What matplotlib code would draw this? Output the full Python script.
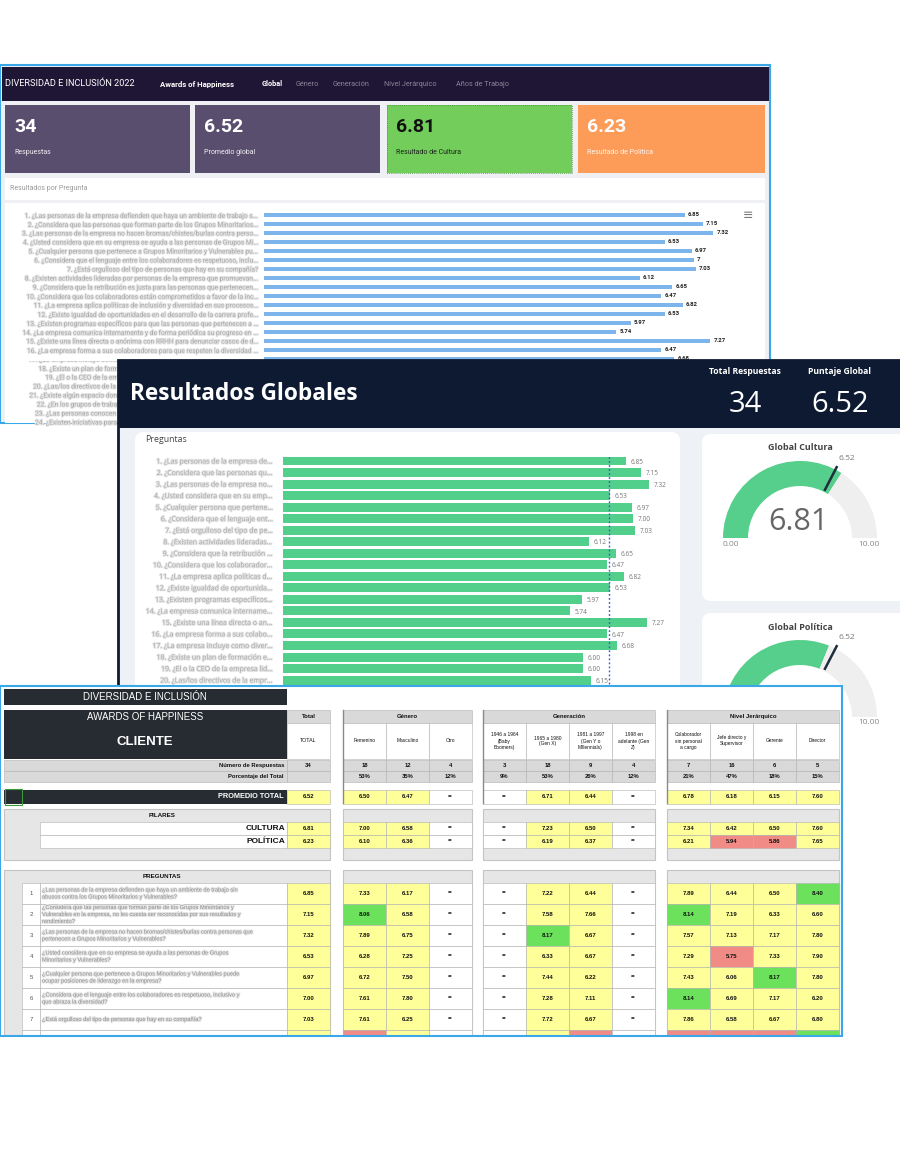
import textwrap
import matplotlib
matplotlib.use("Agg")
import matplotlib.pyplot as plt
import matplotlib.patheffects as pe
from matplotlib.patches import Rectangle, FancyBboxPatch, Wedge
from matplotlib.transforms import Bbox
import numpy as np

W, H = 900, 1153

# ---------------- data ----------------
preguntas = [
    "¿Las personas de la empresa defienden que haya un ambiente de trabajo sin abusos contra los Grupos Minoritarios y Vulnerables?",
    "¿Considera que las personas que forman parte de los Grupos Minoritarios y Vulnerables en la empresa, no les cuesta ser reconocidas por sus resultados y rendimiento?",
    "¿Las personas de la empresa no hacen bromas/chistes/burlas contra personas que pertenecen a Grupos Minoritarios y Vulnerables?",
    "¿Usted considera que en su empresa se ayuda a las personas de Grupos Minoritarios y Vulnerables?",
    "¿Cualquier persona que pertenece a Grupos Minoritarios y Vulnerables puede ocupar posiciones de liderazgo en la empresa?",
    "¿Considera que el lenguaje entre los colaboradores es respetuoso, inclusivo y que abraza la diversidad?",
    "¿Está orgulloso del tipo de personas que hay en su compañía?",
    "¿Existen actividades lideradas por personas de la empresa que promuevan la inclusión y la diversidad?",
    "¿Considera que la retribución es justa para las personas que pertenecen a Grupos Minoritarios y Vulnerables?",
    "¿Considera que los colaboradores están comprometidos a favor de la inclusión en la empresa?",
    "¿La empresa aplica políticas de inclusión y diversidad en sus procesos de selección y promoción?",
    "¿Existe igualdad de oportunidades en el desarrollo de la carrera profesional de todas las personas?",
    "¿Existen programas específicos para que las personas que pertenecen a Grupos Minoritarios se desarrollen?",
    "¿La empresa comunica internamente y de forma periódica su progreso en inclusión y diversidad?",
    "¿Existe una línea directa o anónima con RRHH para denunciar casos de discriminación o acoso?",
    "¿La empresa forma a sus colaboradores para que respeten la diversidad de todas las personas?",
    "¿La empresa incluye como diversas sus áreas de trabajo en todos sus niveles jerárquicos?",
    "¿Existe un plan de formación en diversidad e inclusión para los líderes de la empresa?",
    "¿El o la CEO de la empresa lidera las iniciativas de diversidad e inclusión de la organización?",
    "¿Las/los directivos de la empresa promueven la inclusión de todas las personas en sus equipos?",
    "¿Existe algún espacio donde se evalúe cómo avanza la inclusión dentro de la empresa?",
    "¿En los grupos de trabajo, se valoran las opiniones de todas las personas por igual?",
    "¿Las personas conocen las políticas de diversidad e inclusión que tiene la empresa?",
    "¿Existen iniciativas para incorporar a personas con discapacidad en la empresa?",
]
puntajes = [6.85, 7.15, 7.32, 6.53, 6.97, 7.00, 7.03, 6.12, 6.65, 6.47,
            6.82, 6.53, 5.97, 5.74, 7.27, 6.47, 6.68, 6.00, 6.00, 6.15]

total_respuestas = 34
puntaje_global = 6.52
res_cultura = 6.81
res_politica = 6.23

kpi_valores = [f"{total_respuestas}", f"{puntaje_global:.2f}", f"{res_cultura:.2f}", f"{res_politica:.2f}"]
kpi_textos = ["Respuestas", "Promedio global", "Resultado de Cultura", "Resultado de Política"]
menu_tabs = ["Global", "Género", "Generación", "Nivel Jerárquico", "Años de Trabajo"]

grupos = ["Género", "Generación", "Nivel Jerárquico"]
segmentos = [
    ["Femenino", "Masculino", "Otro"],
    ["1946 a 1964\n(Baby\nBoomers)", "1965 a 1980\n(Gen X)", "1981 a 1997\n(Gen Y o\nMillennials)", "1998 en\nadelante (Gen\nZ)"],
    ["Colaborador\nsin personal\na cargo", "Jefe directo y\nSupervisor", "Gerente", "Director"],
]
n_segmento = [18, 12, 4, 3, 18, 9, 4, 7, 16, 6, 5]
pct_segmento = ["53%", "35%", "12%", "9%", "53%", "26%", "12%", "21%", "47%", "18%", "15%"]

N = None
prom_segmento = [6.50, 6.47, N, N, 6.71, 6.44, N, 6.78, 6.18, 6.15, 7.60]
cultura_segmento = [7.00, 6.58, N, N, 7.23, 6.50, N, 7.34, 6.42, 6.50, 7.60]
politica_segmento = [6.10, 6.36, N, N, 6.19, 6.37, N, 6.21, 5.94, 5.86, 7.65]
preg_segmento = [
    [7.33, 6.17, N, N, 7.22, 6.44, N, 7.89, 6.44, 6.50, 8.40],
    [8.06, 6.58, N, N, 7.58, 7.66, N, 8.14, 7.19, 6.33, 6.60],
    [7.89, 6.75, N, N, 8.17, 6.67, N, 7.57, 7.13, 7.17, 7.80],
    [6.28, 7.25, N, N, 6.33, 6.67, N, 7.29, 5.75, 7.33, 7.90],
    [6.72, 7.50, N, N, 7.44, 6.22, N, 7.43, 6.06, 8.17, 7.80],
    [7.61, 7.80, N, N, 7.28, 7.11, N, 8.14, 6.69, 7.17, 6.20],
    [7.61, 6.25, N, N, 7.72, 6.67, N, 7.86, 6.58, 6.67, 6.80],
    [5.83, 6.42, N, N, 6.39, 5.78, N, 5.71, 5.88, 5.50, 8.20],
]

# ---------------- helpers ----------------
fig = plt.figure(figsize=(W / 100, H / 100), dpi=100)
fig.patch.set_facecolor("white")


def layer(z):
    ax = fig.add_axes([0, 0, 1, 1], zorder=z)
    ax.set_xlim(0, W)
    ax.set_ylim(H, 0)
    ax.axis("off")
    ax.patch.set_alpha(0)
    return ax


def px_axes(x0, y0, x1, y1, z):
    ax = fig.add_axes([x0 / W, 1 - y1 / H, (x1 - x0) / W, (y1 - y0) / H], zorder=z)
    ax.patch.set_alpha(0)
    for s in ax.spines.values():
        s.set_visible(False)
    return ax


def rect(ax, x0, y0, x1, y1, fc, ec="none", lw=0, **kw):
    ax.add_patch(Rectangle((x0, y0), x1 - x0, y1 - y0, facecolor=fc,
                           edgecolor=ec, linewidth=lw, **kw))


def card(ax, x0, y0, x1, y1, fc="white"):
    ax.add_patch(FancyBboxPatch((x0, y0), x1 - x0, y1 - y0,
                                boxstyle="round,pad=0,rounding_size=9",
                                facecolor=fc, edgecolor="none"))


blur = [pe.withStroke(linewidth=1.4, foreground="#e6e6e6")]
BLUE_EDGE = "#3aa8e8"

# ================= panel 1: top dashboard =================
L1 = layer(0)
rect(L1, 0, 65, 770, 423, "#eef0f3", BLUE_EDGE, 1.5)
rect(L1, 1.5, 67, 768.5, 101, "#1f1635")
L1.text(5, 84, "DIVERSIDAD E INCLUSIÓN 2022", color="white", fontsize=6.6,
        family="Roboto", va="center")
L1.text(160, 84, "Awards of Happiness", color="white", fontsize=5.6,
        family="Roboto", weight="bold", va="center")
tab_x = [262, 296, 333, 384, 456]
for i, (t, x) in enumerate(zip(menu_tabs, tab_x)):
    L1.text(x, 84, t, color="white" if i == 0 else "#8a8499", fontsize=5.2,
            family="Roboto", weight="bold" if i == 0 else "normal", va="center")

kpi_x = [(5, 190), (195, 380), (387, 572), (578, 765)]
kpi_col = ["#5a4e6f", "#5a4e6f", "#72cd5b", "#fd9c58"]
kpi_txt = ["white", "white", "#111111", "white"]
for (x0, x1), c, tc, v, t in zip(kpi_x, kpi_col, kpi_txt, kpi_valores, kpi_textos):
    rect(L1, x0, 105, x1, 173, c)
    L1.text(x0 + 9, 127, v, color=tc, fontsize=14, weight="bold",
            family="Roboto", va="center")
    L1.text(x0 + 9, 152, t, color=tc, fontsize=5, family="Roboto",
            va="center", alpha=0.9)
rect(L1, 387, 105, 572, 173, "none", "#3f8f33", 0.6, linestyle=(0, (1, 1.5)))

rect(L1, 5, 178, 765, 200, "white")
L1.text(10, 189, "Resultados por Pregunta", color="#9a9a9a", fontsize=5,
        family="Roboto", va="center")
rect(L1, 5, 203, 765, 423, "white")
L1.text(748, 216, "≡", color="#777777", fontsize=9, ha="center", va="center")

# bar chart (highcharts style)
top_x0, top_ppu = 264, 61.4
top_row0, top_step = 215, 9.0
top_bottom = 424
axT = px_axes(top_x0, top_row0 - top_step / 2, top_x0 + 7.5 * top_ppu, top_bottom, 1)
axT.barh(range(len(puntajes)), puntajes, height=0.45, color="#7cb5ec")
axT.set_xlim(0, 7.5)
axT.set_ylim((top_bottom - top_row0) / top_step, -0.5)
axT.set_xticks([])
labelsT = []
for i, q in enumerate(preguntas):
    s = f"{i + 1}. {q}"
    labelsT.append(s if len(s) < 76 else s[:74] + "...")
axT.set_yticks(range(len(preguntas)))
axT.set_yticklabels(labelsT, fontsize=4.8, color="#a8a8a8", family="Roboto")
hidden = Bbox.from_extents(0, 0, 117, H - 361)
for i, lab in enumerate(axT.get_yticklabels()):
    lab.set_path_effects(blur)
    if top_row0 + i * top_step > 358:
        lab.set_clip_box(hidden)
        lab.set_clip_on(True)
axT.tick_params(axis="y", length=0, pad=5)
for i, v in enumerate(puntajes):
    axT.text(v + 0.05, i, f"{v:g}", fontsize=4.3, weight="bold",
             color="#222222", va="center", family="Roboto")

# ================= panel 2: Resultados Globales =================
L2 = layer(2)
rect(L2, 118, 360, 901, 758, "#eef1f5", "#0d1a31", 2)
rect(L2, 118, 360, 901, 428, "#0d1a31")
L2.text(130, 394, "Resultados Globales", color="white", fontsize=16.3,
        weight="bold", family="Open Sans", va="center")
L2.text(745, 372, "Total Respuestas", color="white", fontsize=6.2,
        weight="bold", family="Open Sans", ha="center", va="center")
L2.text(840, 372, "Puntaje Global", color="white", fontsize=6.2,
        weight="bold", family="Open Sans", ha="center", va="center")
L2.text(745, 404, f"{total_respuestas}", color="white", fontsize=21,
        family="Open Sans", ha="center", va="center")
L2.text(840, 404, f"{puntaje_global:.2f}", color="white", fontsize=21,
        family="Open Sans", ha="center", va="center")

card(L2, 135, 432, 680, 740)
L2.text(145, 440, "Preguntas", color="#444444", fontsize=6.3,
        family="Open Sans", va="center")

mid_x0, mid_ppu = 283, 50.0
mid_row0, mid_step = 461, 11.53
mid_bottom = 700
axM = px_axes(mid_x0, mid_row0 - mid_step / 2, mid_x0 + 7.8 * mid_ppu, mid_bottom, 3)
axM.barh(range(len(puntajes)), puntajes, height=0.78, color="#52cf8a")
axM.axvline(puntaje_global, color="#3d55d8", lw=1, ls=(0, (1.3, 1.6)))
axM.set_xlim(0, 7.8)
axM.set_ylim((mid_bottom - mid_row0) / mid_step, -0.5)
axM.set_xticks([])
labelsM = []
for i, q in enumerate(preguntas[:len(puntajes)]):
    labelsM.append(f"{i + 1}. {q[:30]}...")
axM.set_yticks(range(len(puntajes)))
axM.set_yticklabels(labelsM, fontsize=5.0, color="#a5a5a5", family="Open Sans")
for lab in axM.get_yticklabels():
    lab.set_path_effects(blur)
axM.tick_params(axis="y", length=0, pad=6)
for i, v in enumerate(puntajes):
    axM.text(v + 0.1, i + 0.1, f"{v:.2f}", fontsize=4.7, color="#777777",
             va="center", family="Open Sans")

# gauges
card(L2, 702, 434, 910, 601)
card(L2, 702, 613, 910, 790)


def gauge(ax, cx, cy, value, ref, title):
    R, r = 77, 52
    a = 180 + 18 * value
    ax.add_patch(Wedge((cx, cy), R, 180, a, width=R - r, facecolor="#55cf8b",
                       edgecolor="none"))
    ax.add_patch(Wedge((cx, cy), R, a, 360, width=R - r, facecolor="#efefef",
                       edgecolor="none"))
    t = np.radians(180 + 18 * ref)
    rr = np.array([r + 1, R + 4])
    ax.plot(cx + rr * np.cos(t), cy + rr * np.sin(t), color="#1f2d3d", lw=1.8,
            solid_capstyle="butt")
    ax.text(cx + (R + 12) * np.cos(t) - 2, cy + (R + 12) * np.sin(t), f"{ref:.2f}",
            fontsize=6, color="#777777", family="Open Sans", ha="left", va="center")
    ax.text(cx - 2, cy - 16, f"{value:.2f}", fontsize=22, color="#666666",
            family="Open Sans", ha="center", va="center")
    ax.text(cx - (R + r) / 2 - 5, cy + 6, "0.00", fontsize=6, color="#888888",
            family="Open Sans", ha="center", va="center")
    ax.text(cx + (R + r) / 2 + 4, cy + 6, "10.00", fontsize=6, color="#888888",
            family="Open Sans", ha="center", va="center")
    ax.text(cx, cy - 90, title, fontsize=6.5, color="#444444", weight="bold",
            family="Open Sans", ha="center", va="center")


gauge(L2, 800, 538, res_cultura, puntaje_global, "Global Cultura")
gauge(L2, 800, 717, res_politica, puntaje_global, "Global Política")

# ================= panel 3: Excel table =================
L3 = layer(4)
rect(L3, 0, 686, 842, 1036, "white")

DARK = "#272c32"
GRAY = "#d9d9d9"
LGRAY = "#e6e6e6"
EDGE = "#b0b0b0"
TXT = dict(family="Liberation Sans", weight="bold", color="#111111",
           ha="center", va="center")

col_w = 43
grupo_x0 = [343, 483, 667]
tot_x = (287, 330)
col_x = []
for g, segs in enumerate(segmentos):
    for j in range(len(segs)):
        col_x.append(grupo_x0[g] + j * col_w)
grupo_x1 = [grupo_x0[g] + len(s) * col_w for g, s in enumerate(segmentos)]


def cell_color(v):
    if v is None:
        return "white"
    if v >= 8:
        return "#6ce25c"
    if v < 6:
        return "#f18b86"
    return "#ffff99"


def val_cell(x0, y0, y1, v, fs=4.3):
    rect(L3, x0, y0, x0 + col_w, y1, cell_color(v), EDGE, 0.4)
    L3.text(x0 + col_w / 2, (y0 + y1) / 2, "**" if v is None else f"{v:.2f}",
            fontsize=fs, **TXT)


# titles
rect(L3, 4, 689, 287, 705, DARK)
L3.text(145, 697, "DIVERSIDAD E INCLUSIÓN", color="white", fontsize=7,
        family="Liberation Sans", ha="center", va="center")
rect(L3, 4, 710, 287, 759, DARK)
L3.text(145, 717, "AWARDS OF HAPPINESS", color="white", fontsize=7,
        family="Liberation Sans", ha="center", va="center")
L3.text(145, 742, "CLIENTE", color="white", fontsize=9.5, weight="bold",
        family="Liberation Sans", ha="center", va="center")

# header
rect(L3, tot_x[0], 710, tot_x[1], 723, GRAY, EDGE, 0.4)
L3.text(308.5, 716.5, "Total", fontsize=4.3, **TXT)
rect(L3, tot_x[0], 723, tot_x[1], 759, "white", EDGE, 0.4)
L3.text(308.5, 741, "TOTAL", fontsize=3.8, **{**TXT, "weight": "normal"})
k = 0
for g, segs in enumerate(segmentos):
    rect(L3, grupo_x0[g], 710, grupo_x1[g], 723, GRAY, EDGE, 0.4)
    L3.text((grupo_x0[g] + grupo_x1[g]) / 2, 716.5, grupos[g], fontsize=4.3, **TXT)
    for s in segs:
        rect(L3, col_x[k], 723, col_x[k] + col_w, 759, "white", EDGE, 0.4)
        L3.text(col_x[k] + col_w / 2, 741, s, fontsize=3.5, linespacing=1.25,
                **{**TXT, "weight": "normal"})
        k += 1
    L3.plot([grupo_x0[g], grupo_x0[g]], [710, 803], color="#8a8a8a", lw=1)

# counts / percentages
for y0, y1, lab, vals, tot in [(760, 771, "Número de Respuestas", n_segmento, f"{total_respuestas}"),
                               (771, 782, "Porcentaje del Total", pct_segmento, "")]:
    rect(L3, 4, y0, 287, y1, GRAY, EDGE, 0.4)
    L3.text(284, (y0 + y1) / 2, lab, fontsize=4.2, **{**TXT, "ha": "right"})
    rect(L3, tot_x[0], y0, tot_x[1], y1, GRAY, EDGE, 0.4)
    L3.text(308.5, (y0 + y1) / 2, tot, fontsize=4.2, **TXT)
    for x, v in zip(col_x, vals):
        rect(L3, x, y0, x + col_w, y1, GRAY, EDGE, 0.4)
        L3.text(x + col_w / 2, (y0 + y1) / 2, f"{v}", fontsize=4.2, **TXT)

# promedio total
rect(L3, 4, 790, 287, 804, DARK)
rect(L3, 5, 789, 22, 805, "none", "#3a9a3a", 0.8)
L3.text(284, 797, "PROMEDIO TOTAL", color="white", fontsize=5.3, weight="bold",
        family="Liberation Sans", ha="right", va="center")
rect(L3, tot_x[0], 790, tot_x[1], 804, cell_color(puntaje_global), EDGE, 0.4)
L3.text(308.5, 797, f"{puntaje_global:.2f}", fontsize=4.3, **TXT)
for x, v in zip(col_x, prom_segmento):
    val_cell(x, 790, 804, v)

# pilares
rect(L3, 4, 809, 330, 860, LGRAY, "#c4c4c4", 0.8)
L3.text(162, 815.5, "PILARES", fontsize=4.5, **TXT)
for g in range(3):
    rect(L3, grupo_x0[g], 809, grupo_x1[g], 860, LGRAY, "#c4c4c4", 0.8)
for (y0, y1, lab, v_tot, vals) in [(822, 835, "CULTURA", res_cultura, cultura_segmento),
                                   (835, 848, "POLÍTICA", res_politica, politica_segmento)]:
    rect(L3, 40, y0, 287, y1, "white", EDGE, 0.4)
    L3.text(285, (y0 + y1) / 2, lab, fontsize=6, **{**TXT, "ha": "right"})
    rect(L3, tot_x[0], y0, tot_x[1], y1, cell_color(v_tot), EDGE, 0.4)
    L3.text(308.5, (y0 + y1) / 2, f"{v_tot:.2f}", fontsize=4.3, **TXT)
    for x, v in zip(col_x, vals):
        val_cell(x, y0, y1, v)

# preguntas
q_y0, q_h = 883, 21
rect(L3, 4, 870, 330, 1045, LGRAY, "#c4c4c4", 0.8)
L3.text(162, 876, "PREGUNTAS", fontsize=4.5, **TXT)
for g in range(3):
    rect(L3, grupo_x0[g], 870, grupo_x1[g], 1045, LGRAY, "#c4c4c4", 0.8)
for i, vals in enumerate(preg_segmento):
    y0 = q_y0 + i * q_h
    y1 = y0 + q_h
    if y0 > 1036:
        break
    rect(L3, 22, y0, 40, y1, "white", EDGE, 0.4)
    rect(L3, 40, y0, 287, y1, "white", EDGE, 0.4)
    rect(L3, tot_x[0], y0, tot_x[1], y1, cell_color(puntajes[i]), EDGE, 0.4)
    for x, v in zip(col_x, vals):
        rect(L3, x, y0, x + col_w, y1, cell_color(v), EDGE, 0.4)
    if y1 > 1036:
        continue  # row cut off by the screenshot edge, only the cell tops show
    L3.text(31, (y0 + y1) / 2, f"{i + 1}", fontsize=4.3,
            **{**TXT, "weight": "normal", "color": "#555555"})
    t = L3.text(42, (y0 + y1) / 2, "\n".join(textwrap.wrap(preguntas[i], 78)),
                fontsize=4.1, color="#8a8a8a", family="Liberation Sans",
                ha="left", va="center", linespacing=1.5)
    t.set_path_effects(blur)
    L3.text(308.5, (y0 + y1) / 2, f"{puntajes[i]:.2f}", fontsize=4.3, **TXT)
    for x, v in zip(col_x, vals):
        L3.text(x + col_w / 2, (y0 + y1) / 2, "**" if v is None else f"{v:.2f}",
                fontsize=4.3, **TXT)

# crop the table screenshot and draw its frame
rect(L3, 0, 1037, W, H, "white", zorder=20)
rect(L3, 0, 686, 842, 1036, "none", BLUE_EDGE, 1.5, zorder=21)

fig.savefig("out.png", dpi=100, facecolor="white")
